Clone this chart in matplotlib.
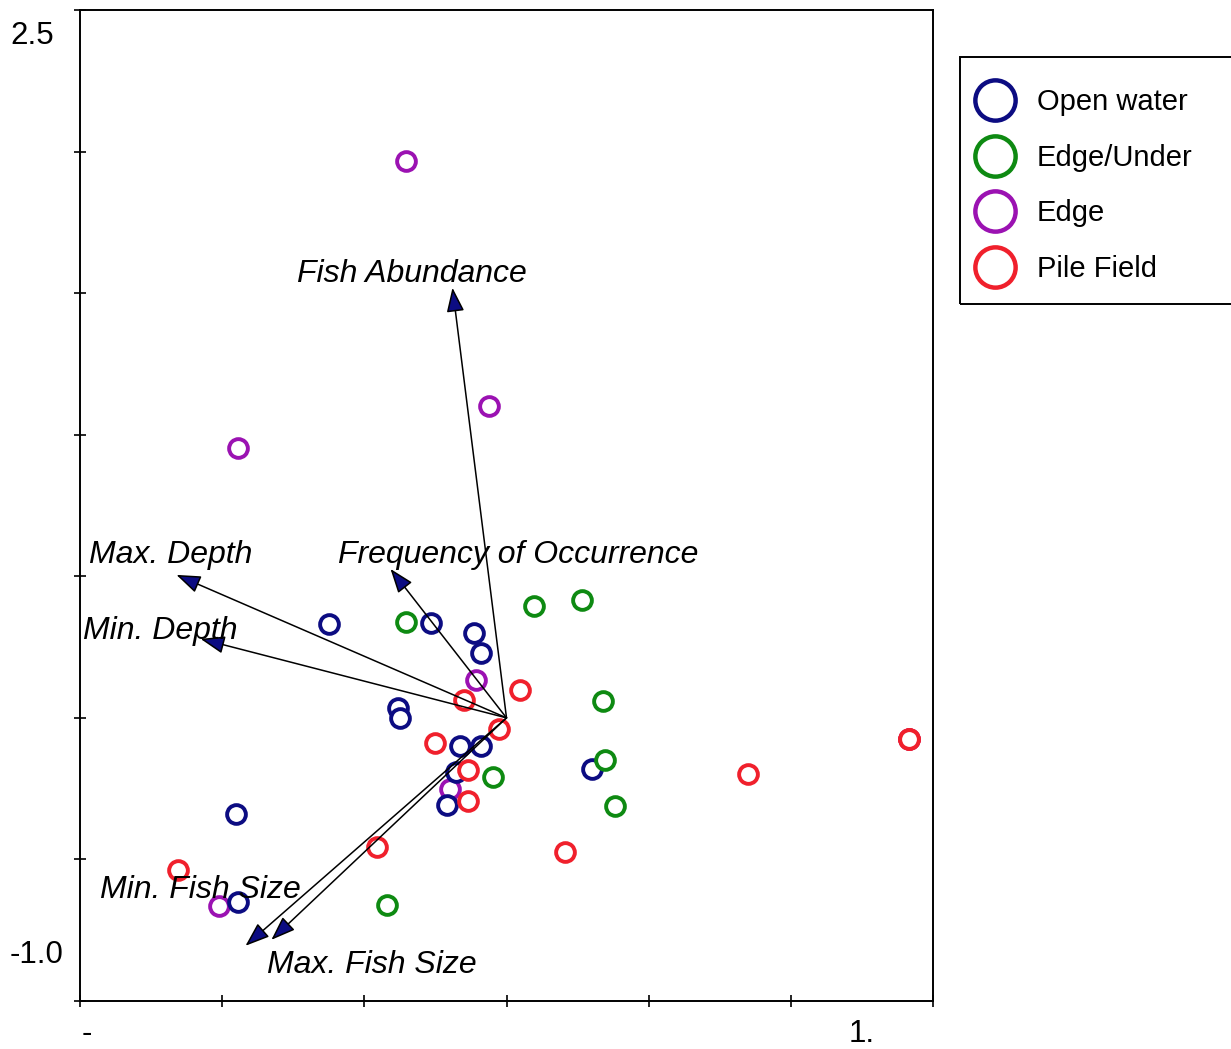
import matplotlib
matplotlib.use("Agg")
import matplotlib.pyplot as plt
from matplotlib.patches import FancyArrowPatch, Rectangle
from matplotlib.lines import Line2D

plt.rcParams['font.family'] = ['Liberation Sans', 'DejaVu Sans']

# site scores per habitat
open_x = [-0.623, -0.264, -0.113, -0.088, -0.380, -0.373, -0.165, -0.088, -0.176, -0.211, 0.302, -0.950, -0.943]
open_y = [0.332, 0.336, 0.300, 0.230, 0.035, 0.000, -0.099, -0.099, -0.191, -0.307, -0.180, -0.339, -0.650]
under_x = [-0.355, 0.098, 0.267, 0.341, 0.345, -0.046, 0.380, -0.419]
under_y = [0.339, 0.396, 0.417, 0.060, -0.148, -0.208, -0.311, -0.661]
edge_x = [-0.352, -0.060, -0.943, -0.106, -0.197, -1.010, 1.414]
edge_y = [1.967, 1.102, 0.954, 0.134, -0.251, -0.664, -0.074]
pile_x = [-0.148, 0.049, -0.028, -0.253, -0.134, -0.137, -0.457, 0.204, 0.851, 1.414, 1.414, -1.157]
pile_y = [0.064, 0.099, -0.039, -0.088, -0.184, -0.293, -0.456, -0.473, -0.198, -0.074, -0.074, -0.537]

# environmental vectors
env_names = ["Fish Abundance", "Frequency of Occurrence", "Max. Depth",
             "Min. Depth", "Min. Fish Size", "Max. Fish Size"]
env_x = [-0.190, -0.408, -1.161, -1.076, -0.918, -0.827]
env_y = [1.519, 0.526, 0.505, 0.279, -0.805, -0.784]
lab_x = [-0.334, -0.594, -1.467, -1.491, -1.428, -0.841]
lab_y = [1.568, 0.576, 0.576, 0.307, -0.607, -0.872]
lab_ha = ["center", "left", "left", "left", "left", "left"]

xticks = [-1.5, -1.0, -0.5, 0.0, 0.5, 1.0, 1.5]
xtick_labels = ["-", "", "", "", "", "", "1."]
yticks = [-1.0, -0.5, 0.0, 0.5, 1.0, 1.5, 2.0, 2.5]
ytick_labels = ["-1.0", "", "", "", "", "", "", "2.5"]

c_open = '#0c0c82'
c_under = '#0e8a12'
c_edge = '#9b12b2'
c_pile = '#f0202c'

fig = plt.figure(figsize=(12.31, 10.49), dpi=100)
W, H = 1231, 1049
ax = fig.add_axes([80 / W, (H - 1001) / H, 853 / W, 991 / H])
ax.set_xlim(-1.5, 1.5)
ax.set_ylim(-1.0, 2.5)

mk = dict(linestyle='none', marker='o', markersize=13.5, mfc='white', mew=2.8)
ax.plot(edge_x, edge_y, mec=c_edge, **mk)
ax.plot(open_x, open_y, mec=c_open, **mk)
ax.plot(under_x, under_y, mec=c_under, **mk)
ax.plot(pile_x, pile_y, mec=c_pile, **mk)

for ex, ey in zip(env_x, env_y):
    arr = FancyArrowPatch((0, 0), (ex, ey), arrowstyle='-|>,head_length=1.15,head_width=0.42',
                          mutation_scale=13, shrinkA=0, shrinkB=0,
                          facecolor='#0c0c82', edgecolor='black', linewidth=1.1, zorder=4)
    ax.add_patch(arr)
for name, tx, ty, ha in zip(env_names, lab_x, lab_y, lab_ha):
    ax.text(tx, ty, name, ha=ha, va='center', fontsize=23, style='italic', zorder=5)

ax.set_xticks(xticks)
ax.set_yticks(yticks)
ax.set_xticklabels([])
ax.set_yticklabels([])
ax.tick_params(direction='inout', length=9, width=1.2)
for sp in ax.spines.values():
    sp.set_linewidth(1.4)

# tick labels sit offset from their ticks, as in the original export
for v, lab in zip(yticks, ytick_labels):
    if lab:
        dy = -26 if v > 0 else 46
        ax.annotate(lab, xy=(0, v), xycoords=('axes fraction', 'data'), xytext=(-70, dy),
                    textcoords='offset pixels', ha='left', va='center', fontsize=22.5,
                    annotation_clip=False)
for v, lab in zip(xticks, xtick_labels):
    if lab:
        dx = 7 if v < 0 else -71
        ax.annotate(lab, xy=(v, 0), xycoords=('data', 'axes fraction'), xytext=(dx, -33),
                    textcoords='offset pixels', ha='center', va='center', fontsize=22.5,
                    annotation_clip=False)

# legend
fig.patches.append(Rectangle((960 / W, (H - 304) / H), 300 / W, 247 / H, transform=fig.transFigure,
                             fill=False, edgecolor='black', linewidth=1.4))
lm = dict(linestyle='none', marker='o', markersize=29, mfc='none', mew=3.2)
handles = [Line2D([], [], mec=c_open, **lm), Line2D([], [], mec=c_under, **lm),
           Line2D([], [], mec=c_edge, **lm), Line2D([], [], mec=c_pile, **lm)]
labels = ["Open water", "Edge/Under", "Edge", "Pile Field"]
fig.legend(handles, labels, loc='upper left', bbox_to_anchor=(975 / W, 1 - 88 / H),
           frameon=False, fontsize=21, handletextpad=0.72, labelspacing=0.95,
           borderaxespad=0, borderpad=0, handlelength=1.4)

fig.savefig("out.png", dpi=100)
